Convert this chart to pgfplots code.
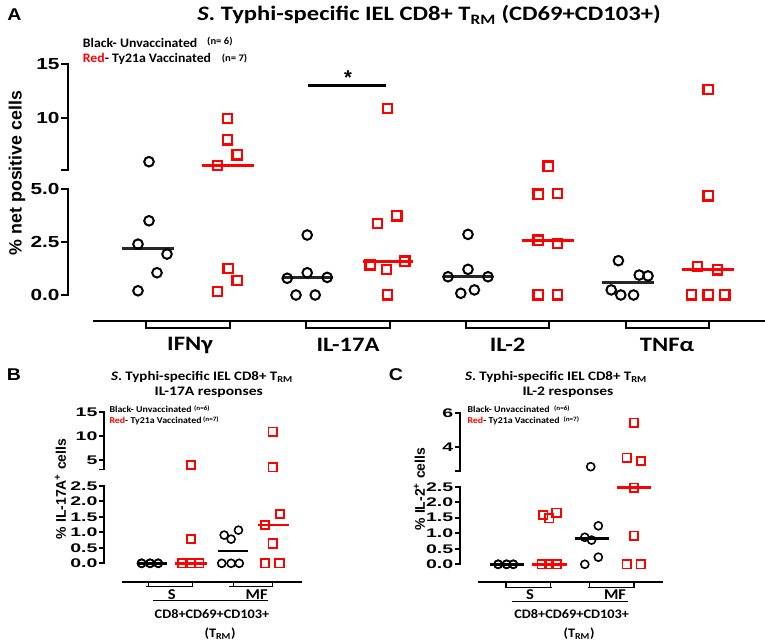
\documentclass[border=0pt]{standalone}
\usepackage{fontspec}
\setmainfont{Carlito}
\newfontfamily\arialf{Liberation Sans}
\usepackage{pgfplots}
\pgfplotsset{compat=1.18}
\definecolor{vred}{RGB}{255,0,0}

\pgfplotsset{
  seg/.style={
    scale only axis, clip=false, anchor=south west,
    axis x line=none, axis y line*=left,
    axis line style={line width=2.2pt, line cap=rect},
    ytick style={line width=2.2pt, black},
    major tick length=7pt,
    tick align=outside,
    yticklabel style={font=\arialf\bfseries\fontsize{16}{16}\selectfont, inner sep=1pt, xscale=1.3},
  },
  segs/.style={
    seg,
    axis line style={line width=1.8pt, line cap=rect},
    ytick style={line width=1.8pt, black},
    major tick length=5pt,
    yticklabel style={font=\arialf\bfseries\fontsize{12.5}{12.5}\selectfont, inner sep=1pt, xscale=1.2},
  },
  blk/.style={only marks, mark=o, mark size=4.8pt, black, mark options={line width=2pt}},
  rd/.style={only marks, mark=square, mark size=4.6pt, vred, mark options={line width=2.2pt}},
  blks/.style={only marks, mark=o, mark size=4pt, black, mark options={line width=1.6pt}},
  rds/.style={only marks, mark=square, mark size=4.2pt, vred, mark options={line width=1.8pt}},
  mblk/.style={no marks, black!85, line width=3pt},
  mrd/.style={no marks, vred, line width=3pt},
  mblks/.style={no marks, black, line width=2.5pt},
  mrds/.style={no marks, vred, line width=2.5pt},
}

\begin{document}
\begin{tikzpicture}[x=1pt,y=1pt]
\useasboundingbox (0,0) rectangle (765,643);
\fill[white] (0,0) rectangle (765,643);

% ===================== PANEL A =====================
% lower segment 0..5
\begin{axis}[seg, at={(68pt,348pt)}, width=697pt, height=106pt,
  xmin=0, xmax=8.7125, ymin=0, ymax=5,
  ytick={0,2.5,5}, yticklabels={0.0,2.5,5.0}]
% IFNg
\addplot[blk] coordinates {(1.0125,3.5) (0.875,2.4) (1.2375,1.93) (1.1125,1.05) (0.875,0.2)};
\addplot[mblk] coordinates {(0.675,2.17) (1.325,2.17)};
\addplot[rd] coordinates {(2.0,1.26) (2.1125,0.68) (1.871,0.16)};
% IL-17A
\addplot[blk] coordinates {(2.99,2.83) (2.74,0.79) (2.99,1.05) (3.24,0.83) (2.85,0) (3.09,0)};
\addplot[mblk] coordinates {(2.69,0.81) (3.31,0.81)};
\addplot[rd] coordinates {(3.87,3.38) (4.11,3.73) (3.775,1.42) (3.98,1.21) (4.21,1.6) (3.99,0)};
\addplot[mrd] coordinates {(3.69,1.6) (4.31,1.6)};
% IL-2
\addplot[blk] coordinates {(5.0,2.86) (5.0,1.21) (4.75,0.86) (5.25,0.86) (4.91,0.08) (5.08,0.24)};
\addplot[mblk] coordinates {(4.69,0.86) (5.31,0.86)};
\addplot[rd] coordinates {(5.875,4.76) (6.12,4.8) (5.875,2.59) (6.12,2.44) (5.875,0) (6.12,0)};
\addplot[mrd] coordinates {(5.68,2.59) (6.32,2.59)};
% TNFa
\addplot[blk] coordinates {(6.88,1.62) (7.14,0.94) (7.25,0.9) (6.79,0.24) (6.91,0) (7.07,0)};
\addplot[mblk] coordinates {(6.68,0.57) (7.33,0.57)};
\addplot[rd] coordinates {(8.0,4.67) (7.87,1.34) (8.12,1.18) (7.79,0) (8.0,0) (8.21,0)};
\addplot[mrd] coordinates {(7.67,1.18) (8.33,1.18)};
\end{axis}

% upper segment 5.2..15
\begin{axis}[seg, at={(68pt,472.6pt)}, width=697pt, height=106.4pt,
  xmin=0, xmax=8.7125, ymin=5.2, ymax=15,
  ytick={5.2,10,15}, yticklabels={,10,15}]
\addplot[blk] coordinates {(1.0125,6.0)};
\addplot[rd] coordinates {(1.996,10.0) (1.996,8.0) (2.1125,6.62) (1.871,5.64)};
\addplot[mrd] coordinates {(1.675,5.64) (2.325,5.64)};
\addplot[rd] coordinates {(3.99,10.92)};
\addplot[rd] coordinates {(6.0,5.6)};
\addplot[rd] coordinates {(8.0,12.67)};
\draw[line width=2.6pt] (axis cs:3,13) -- (axis cs:3.98,13);
\node[font=\arialf\bfseries\fontsize{20}{20}\selectfont, inner sep=0pt] at (axis cs:3.5,13.75) {*};
\end{axis}

% x axis + brackets A
\draw[line width=2.2pt] (93,{643-320.7}) -- (765,{643-320.7});
\foreach \a/\b in {146/230, 306/390, 466/549, 626/709}{
  \draw[line width=2pt] (\a,{643-320.7}) -- (\a,{643-328}) -- (\b,{643-328}) -- (\b,{643-320.7});
}
\begin{scope}[every node/.style={inner sep=0pt, xscale=1.2, font=\bfseries\fontsize{20.5}{20.5}\selectfont}]
\node at (190,{643-345}) {IFNγ};
\node at (348,{643-345}) {IL-17A};
\node at (507.5,{643-345}) {IL-2};
\node at (667,{643-345}) {TNFα};
\end{scope}

% titles / labels A
\node[inner sep=0pt, xscale=1.15, font=\arialf\bfseries\fontsize{17}{17}\selectfont] at (14.5,{643-15}) {A};
\node[inner sep=0pt, xscale=1.2, font=\bfseries\fontsize{20.5}{20.5}\selectfont] at (429,{643-15}) {{\itshape S}. Typhi-specific IEL CD8+ T\textsubscript{RM} (CD69+CD103+)};
\node[inner sep=0pt, rotate=90, font=\arialf\bfseries\fontsize{17.8}{17.8}\selectfont] at (17,{643-173}) {\% net positive cells};
\begin{scope}[every node/.style={inner sep=0pt, anchor=west, xscale=1.06}]
\node[font=\bfseries\fontsize{13}{13}\selectfont] at (82.7,{643-42.7}) {Black- Unvaccinated};
\node[font=\bfseries\fontsize{10}{10}\selectfont] at (207,{643-41.7}) {(n= 6)};
\node[font=\bfseries\fontsize{13}{13}\selectfont] at (82.7,{643-59.3}) {\textcolor{vred}{Red}- Ty21a Vaccinated};
\node[font=\bfseries\fontsize{10}{10}\selectfont] at (221.7,{643-58.3}) {(n= 7)};
\end{scope}

% ===================== PANEL B =====================
\begin{axis}[segs, at={(104.3pt,79.7pt)}, width=189.9pt, height=77.5pt,
  xmin=-0.165, xmax=4.5, ymin=0, ymax=2.5,
  ytick={0,0.5,1,1.5,2,2.5}, yticklabels={0.0,0.5,1.0,1.5,2.0,2.5}]
\addplot[blks] coordinates {(0.75,0) (0.96,0) (1.16,0) (0.75,0) (0.96,0) (1.16,0)};
\addplot[mblks] coordinates {(0.63,0) (1.37,0)};
\addplot[rds] coordinates {(1.96,0.78) (1.74,0) (1.96,0) (2.17,0) (1.74,0) (2.17,0)};
\addplot[mrds] coordinates {(1.57,0) (2.35,0)};
\addplot[blks] coordinates {(2.78,0.91) (2.95,0.78) (3.13,1.07) (2.72,0) (2.95,0) (3.15,0)};
\addplot[mblks] coordinates {(2.64,0.40) (3.37,0.40)};
\addplot[rds] coordinates {(4.15,1.59) (3.78,1.24) (3.97,0.64) (3.78,0) (4.14,0)};
\addplot[mrds] coordinates {(3.62,1.24) (4.38,1.24)};
\end{axis}
\begin{axis}[segs, at={(104.3pt,173.5pt)}, width=189.9pt, height=57.2pt,
  xmin=-0.165, xmax=4.5, ymin=3, ymax=15,
  ytick={3,5,10,15}, yticklabels={,5,10,15}]
\addplot[rds] coordinates {(1.96,3.95)};
\addplot[rds] coordinates {(3.97,10.93) (3.97,3.47)};
\end{axis}

\draw[line width=1.8pt] (121.7,{643-581.7}) -- (301.7,{643-581.7});
\draw[line width=1.4pt] (148.3,{643-581.7}) -- (148.3,{643-586.7}) (145.7,{643-586.7}) -- (193.3,{643-586.7}) (192.7,{643-586.7}) -- (192.7,{643-581.7});
\draw[line width=1.4pt] (233.3,{643-581.7}) -- (233.3,{643-586.7}) (229.3,{643-586.7}) -- (273.3,{643-586.7}) (272.7,{643-586.7}) -- (272.7,{643-581.7});
\draw[line width=1.4pt] (153,{643-600.7}) -- (268,{643-600.7});
\begin{scope}[every node/.style={inner sep=0pt}]
\node[xscale=1.1, font=\bfseries\fontsize{15}{15}\selectfont] at (171.7,{643-595}) {S};
\node[xscale=1.1, font=\bfseries\fontsize{15}{15}\selectfont] at (256.7,{643-595}) {MF};
\node[xscale=1.1, font=\bfseries\fontsize{13}{13}\selectfont] at (212,{643-614}) {CD8+CD69+CD103+};
\node[xscale=1.1, font=\bfseries\fontsize{13}{13}\selectfont] at (220,{643-634}) {(T\textsubscript{RM})};
\node[xscale=1.15, font=\arialf\bfseries\fontsize{17}{17}\selectfont] at (14,{643-375}) {B};
\node[xscale=1.15, font=\bfseries\fontsize{13}{13}\selectfont] at (202,{643-377}) {{\itshape S}. Typhi-specific IEL CD8+ T\textsubscript{RM}};
\node[xscale=1.2, font=\bfseries\fontsize{13}{13}\selectfont] at (208.7,{643-392}) {IL-17A responses};
\node[rotate=90, font=\arialf\bfseries\fontsize{14}{14}\selectfont] at (60.5,{643-489}) {\% IL-17A\textsuperscript{+} cells};
\node[anchor=west, xscale=1.1, font=\bfseries\fontsize{9}{9}\selectfont] at (109.3,{643-409.3}) {Black- Unvaccinated};
\node[anchor=west, xscale=1.1, font=\bfseries\fontsize{6.5}{6.5}\selectfont] at (194,{643-408.3}) {(n=6)};
\node[anchor=west, xscale=1.1, font=\bfseries\fontsize{9}{9}\selectfont] at (109.3,{643-420.7}) {\textcolor{vred}{Red}- Ty21a Vaccinated};
\node[anchor=west, xscale=1.1, font=\bfseries\fontsize{6.5}{6.5}\selectfont] at (203,{643-419.7}) {(n=7)};
\end{scope}

% ===================== PANEL C =====================
\begin{axis}[segs, at={(460pt,78.7pt)}, width=195pt, height=77.6pt,
  xmin=-0.111, xmax=4.5, ymin=0, ymax=2.5,
  ytick={0,0.5,1,1.5,2,2.5}, yticklabels={0.0,0.5,1.0,1.5,2.0,2.5}]
\addplot[blks] coordinates {(0.79,0) (0.99,0) (1.15,0) (0.79,0) (0.99,0) (1.15,0)};
\addplot[mblks] coordinates {(0.6,0) (1.4,0)};
\addplot[rds] coordinates {(1.86,1.59) (2.17,1.66) (2.0,1.48) (1.82,0) (2.0,0) (2.17,0) (2.0,0)};
\addplot[mrds] coordinates {(1.6,0) (2.41,0)};
\addplot[blks] coordinates {(3.16,1.24) (2.84,0.87) (3.0,0.78) (3.16,0.23) (2.84,0)};
\addplot[mblks] coordinates {(2.61,0.825) (3.42,0.825)};
\addplot[rds] coordinates {(4.0,2.47) (4.0,0.92) (3.83,0) (4.16,0)};
\addplot[mrds] coordinates {(3.61,2.47) (4.4,2.47)};
\end{axis}
\begin{axis}[segs, at={(460pt,171.9pt)}, width=195pt, height=57.8pt,
  xmin=-0.111, xmax=4.5, ymin=2.6, ymax=6,
  ytick={2.6,4,6}, yticklabels={,4,6}]
\addplot[blks] coordinates {(2.98,2.86)};
\addplot[rds] coordinates {(4.0,5.45) (3.83,3.39) (4.17,3.19)};
\end{axis}

\draw[line width=1.8pt] (478.3,{643-582.3}) -- (662.7,{643-582.3});
\draw[line width=1.4pt] (506,{643-582.3}) -- (506,{643-587.3}) (505,{643-587.3}) -- (551.7,{643-587.3}) (550.7,{643-587.3}) -- (550.7,{643-582.3});
\draw[line width=1.4pt] (589.3,{643-582.3}) -- (589.3,{643-587.3}) (588.3,{643-587.3}) -- (635,{643-587.3}) (634,{643-587.3}) -- (634,{643-582.3});
\draw[line width=1.4pt] (511.7,{643-601.7}) -- (628.3,{643-601.7});
\begin{scope}[every node/.style={inner sep=0pt}]
\node[xscale=1.1, font=\bfseries\fontsize{15}{15}\selectfont] at (530,{643-595}) {S};
\node[xscale=1.1, font=\bfseries\fontsize{15}{15}\selectfont] at (615,{643-595}) {MF};
\node[xscale=1.1, font=\bfseries\fontsize{13}{13}\selectfont] at (571.7,{643-614}) {CD8+CD69+CD103+};
\node[xscale=1.1, font=\bfseries\fontsize{13}{13}\selectfont] at (579,{643-634}) {(T\textsubscript{RM})};
\node[xscale=1.15, font=\arialf\bfseries\fontsize{17}{17}\selectfont] at (396,{643-375}) {C};
\node[xscale=1.15, font=\bfseries\fontsize{13}{13}\selectfont] at (556,{643-377}) {{\itshape S}. Typhi-specific IEL CD8+ T\textsubscript{RM}};
\node[xscale=1.2, font=\bfseries\fontsize{13}{13}\selectfont] at (568,{643-392}) {IL-2 responses};
\node[rotate=90, font=\arialf\bfseries\fontsize{14}{14}\selectfont] at (419.5,{643-489}) {\% IL-2\textsuperscript{+} cells};
\node[anchor=west, xscale=1.1, font=\bfseries\fontsize{9}{9}\selectfont] at (467.3,{643-409.3}) {Black- Unvaccinated};
\node[anchor=west, xscale=1.1, font=\bfseries\fontsize{6.5}{6.5}\selectfont] at (554,{643-408.3}) {(n=6)};
\node[anchor=west, xscale=1.1, font=\bfseries\fontsize{9}{9}\selectfont] at (467.3,{643-420.7}) {\textcolor{vred}{Red}- Ty21a Vaccinated};
\node[anchor=west, xscale=1.1, font=\bfseries\fontsize{6.5}{6.5}\selectfont] at (563.3,{643-419.7}) {(n=7)};
\end{scope}
\end{tikzpicture}
\end{document}
